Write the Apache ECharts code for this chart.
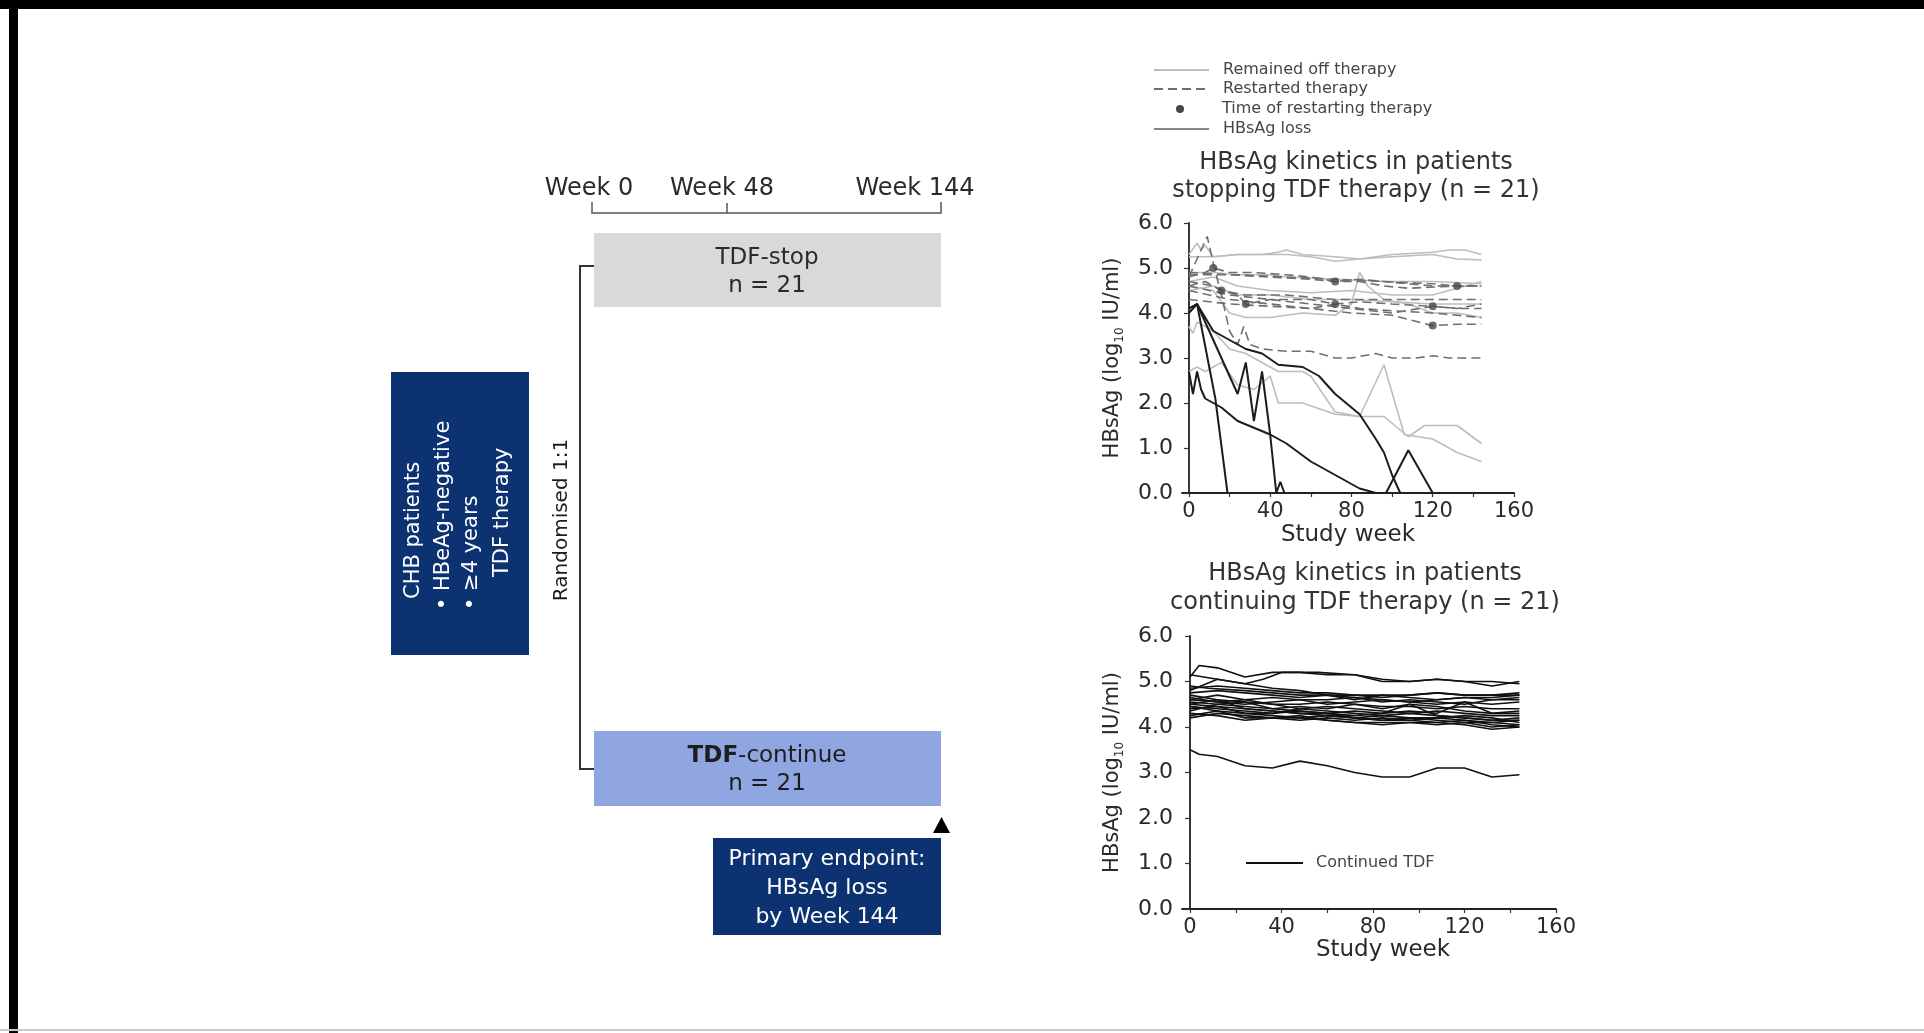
<!DOCTYPE html>
<html><head><meta charset="utf-8">
<script src="https://cdn.jsdelivr.net/npm/echarts@6/dist/echarts.min.js"></script>
<style>
html,body{margin:0;padding:0;background:#fff;overflow:hidden;}
#c{position:absolute;left:0;top:0;width:1924px;height:1033px;}
.bar{position:absolute;background:#000;}
</style></head><body>
<div id="c"></div>
<div class="bar" style="left:0;top:0;width:1924px;height:9px"></div>
<div class="bar" style="left:9px;top:0;width:9px;height:1033px"></div>
<div style="position:absolute;left:0;top:1029px;width:1924px;height:2px;background:#c8c8c8"></div>
<script>
// ---------- DATA ----------
const weekTicks = [0, 20, 40, 60, 80, 100, 120, 140, 160];
const weekLabels = [0, 40, 80, 120, 160];
const yTicks = [0, 1, 2, 3, 4, 5, 6];

// Stopping TDF: patients who remained off therapy (week, log10 IU/ml)
const offTherapy = [
  [[0,5.3],[4,5.55],[6,5.4],[8,5.5],[12,5.25],[24,5.3],[36,5.3],[44,5.35],[48,5.4],[56,5.3],[72,5.25],[84,5.2],[100,5.3],[120,5.35],[128,5.4],[136,5.4],[144,5.3]],
  [[0,5.25],[12,5.25],[24,5.3],[48,5.3],[60,5.25],[72,5.15],[84,5.2],[100,5.25],[120,5.3],[132,5.2],[144,5.18]],
  [[0,4.6],[12,4.5],[20,4.0],[28,3.9],[40,3.9],[56,4.0],[72,3.95],[80,4.2],[84,4.9],[88,4.6],[96,4.3],[108,4.2],[120,4.0],[132,4.0],[144,3.9]],
  [[0,4.5],[12,4.6],[24,4.4],[40,4.4],[60,4.3],[80,4.3],[100,4.25],[120,4.2],[144,4.2]],
  [[0,4.7],[12,4.8],[24,4.6],[40,4.5],[60,4.45],[80,4.5],[100,4.4],[120,4.4],[144,4.7]],
  [[0,4.9],[12,4.9],[24,4.85],[40,4.85],[48,4.8],[72,4.75],[96,4.7],[120,4.7],[144,4.65]],
  [[0,3.7],[2,3.55],[4,3.8],[8,3.7],[12,3.6],[20,3.2],[28,3.1],[36,2.9],[44,2.7],[56,2.7],[60,2.6],[72,1.8],[84,1.7],[96,1.7],[108,1.25],[116,1.5],[132,1.5],[144,1.1]],
  [[0,2.7],[4,2.8],[8,2.7],[16,2.9],[24,2.4],[32,2.3],[40,2.6],[44,2.0],[56,2.0],[72,1.75],[84,1.7],[96,2.85],[106,1.3],[120,1.2],[132,0.9],[144,0.7]]
];
// Stopping TDF: patients who restarted therapy
const restarted = [
  [[0,4.8],[8,4.9],[12,5.0],[20,4.9],[32,4.9],[48,4.85],[60,4.8],[72,4.7],[84,4.75],[96,4.7],[108,4.65],[120,4.6],[132,4.6],[144,4.6]],
  [[0,4.6],[8,4.7],[16,4.5],[24,4.4],[28,4.2],[40,4.3],[60,4.3],[72,4.2],[84,4.25],[100,4.2],[120,4.15],[132,4.1],[144,4.1]],
  [[0,4.7],[12,4.6],[16,4.5],[28,4.4],[48,4.4],[60,4.35],[72,4.3],[88,4.3],[108,4.3],[120,4.3],[144,4.3]],
  [[0,4.9],[20,4.85],[40,4.8],[60,4.75],[72,4.7],[84,4.7],[96,4.6],[108,4.55],[132,4.6],[144,4.6]],
  [[0,4.5],[20,4.3],[40,4.2],[60,4.1],[72,4.2],[84,4.1],[100,4.05],[120,4.0],[144,3.9]],
  [[0,4.6],[20,4.4],[40,4.3],[60,4.2],[80,4.1],[100,4.0],[120,4.15],[132,4.1],[144,4.2]],
  [[0,4.3],[20,4.2],[40,4.15],[60,4.1],[80,4.0],[100,3.95],[120,3.72],[132,3.75],[144,3.75]],
  [[0,4.8],[4,5.2],[9,5.7],[12,5.1],[16,4.4],[20,3.6],[24,3.3],[27,3.7],[30,3.3],[36,3.2],[48,3.15],[60,3.15],[72,3.0],[80,3.0],[92,3.1],[100,3.0],[112,3.0],[120,3.05],[128,3.0],[144,3.0]],
  [[0,4.85],[24,4.85],[48,4.8],[72,4.75],[96,4.7],[120,4.65],[132,4.6],[144,4.6]]
];
// Time of restarting therapy
const restartPoints = [[12,5.0],[16,4.5],[28,4.2],[72,4.7],[72,4.2],[120,4.15],[120,3.72],[132,4.6]];
// Stopping TDF: patients with HBsAg loss
const hbsagLoss = [
  [[0,4.1],[4,4.2],[13,2.1],[19,0]],
  [[0,4.0],[4,4.2],[24,2.2],[28,2.9],[32,1.6],[36,2.7],[40,1.3],[43,0],[45,0.25],[47,0]],
  [[0,2.7],[2,2.2],[4,2.7],[6,2.3],[8,2.1],[16,1.9],[24,1.6],[32,1.45],[40,1.3],[48,1.1],[60,0.7],[72,0.4],[84,0.1],[92,0],[97,0],[108,0.95],[120,0]],
  [[0,4.1],[4,4.2],[12,3.6],[20,3.4],[28,3.2],[36,3.1],[44,2.85],[56,2.8],[64,2.6],[72,2.2],[84,1.75],[92,1.2],[96,0.9],[100,0.4],[104,0]]
];
// Continuing TDF (n = 21)
const continued = [
  [[0,5.1],[4,5.35],[12,5.3],[24,5.1],[36,5.2],[48,5.2],[60,5.15],[72,5.15],[84,5.0],[96,5.0],[108,5.05],[120,5.0],[132,4.9],[144,5.0]],
  [[0,5.15],[12,5.05],[24,4.95],[32,5.05],[40,5.2],[56,5.2],[72,5.15],[84,5.05],[96,5.0],[108,5.05],[120,5.0],[132,5.0],[144,4.95]],
  [[0,3.5],[4,3.4],[12,3.35],[24,3.15],[36,3.1],[48,3.25],[60,3.15],[72,3.0],[84,2.9],[96,2.9],[108,3.1],[120,3.1],[132,2.9],[144,2.95]],
  [[0,4.85],[12,4.9],[24,4.85],[36,4.8],[48,4.75],[60,4.75],[72,4.7],[84,4.7],[96,4.7],[108,4.75],[120,4.7],[132,4.7],[144,4.75]],
  [[0,4.8],[12,5.05],[24,4.95],[36,4.85],[48,4.8],[60,4.7],[72,4.6],[84,4.7],[96,4.65],[108,4.6],[120,4.65],[132,4.65],[144,4.7]],
  [[0,4.75],[12,4.8],[24,4.75],[36,4.7],[48,4.65],[60,4.7],[72,4.65],[84,4.55],[96,4.6],[108,4.55],[120,4.5],[132,4.6],[144,4.6]],
  [[0,4.6],[12,4.7],[24,4.6],[36,4.5],[48,4.5],[60,4.55],[72,4.5],[84,4.45],[96,4.45],[108,4.4],[120,4.45],[132,4.4],[144,4.4]],
  [[0,4.55],[12,4.5],[24,4.45],[36,4.4],[48,4.35],[60,4.3],[72,4.35],[84,4.3],[96,4.35],[108,4.3],[120,4.55],[132,4.3],[144,4.35]],
  [[0,4.5],[12,4.45],[24,4.3],[36,4.25],[48,4.2],[60,4.25],[72,4.2],[84,4.15],[96,4.15],[108,4.2],[120,4.15],[132,4.1],[144,4.15]],
  [[0,4.45],[12,4.35],[24,4.2],[36,4.2],[48,4.25],[60,4.15],[72,4.1],[84,4.1],[96,4.1],[108,4.05],[120,4.1],[132,4.0],[144,4.05]],
  [[0,4.3],[12,4.25],[24,4.15],[36,4.2],[48,4.15],[60,4.2],[72,4.15],[84,4.2],[96,4.15],[108,4.1],[120,4.05],[132,3.95],[144,4.0]],
  [[0,4.25],[12,4.35],[24,4.3],[36,4.3],[48,4.4],[60,4.35],[72,4.3],[84,4.25],[96,4.3],[108,4.25],[120,4.2],[132,4.15],[144,4.2]],
  [[0,4.7],[12,4.6],[24,4.55],[36,4.4],[48,4.45],[60,4.4],[72,4.5],[84,4.4],[96,4.5],[108,4.45],[120,4.35],[132,4.3],[144,4.3]],
  [[0,4.65],[12,4.55],[24,4.5],[36,4.55],[48,4.6],[60,4.6],[72,4.65],[84,4.6],[96,4.55],[108,4.6],[120,4.65],[132,4.6],[144,4.65]],
  [[0,4.4],[12,4.45],[24,4.4],[36,4.35],[48,4.3],[60,4.25],[72,4.2],[84,4.25],[96,4.2],[108,4.2],[120,4.25],[132,4.2],[144,4.1]],
  [[0,4.9],[8,4.85],[24,4.8],[36,4.75],[48,4.7],[60,4.7],[72,4.7],[84,4.65],[96,4.7],[108,4.75],[120,4.7],[132,4.7],[144,4.7]],
  [[0,4.35],[12,4.5],[24,4.55],[36,4.5],[48,4.4],[60,4.45],[72,4.4],[84,4.35],[96,4.3],[108,4.35],[120,4.3],[132,4.25],[144,4.25]],
  [[0,4.5],[12,4.6],[24,4.4],[36,4.35],[48,4.3],[60,4.3],[72,4.25],[84,4.3],[96,4.5],[108,4.25],[120,4.2],[132,4.15],[144,4.15]],
  [[0,4.6],[12,4.55],[24,4.6],[36,4.65],[48,4.6],[60,4.5],[72,4.55],[84,4.6],[96,4.55],[108,4.5],[120,4.55],[132,4.5],[144,4.55]],
  [[0,4.45],[12,4.4],[24,4.35],[36,4.3],[48,4.35],[60,4.3],[72,4.2],[84,4.15],[96,4.2],[108,4.15],[120,4.1],[132,4.1],[144,4.05]],
  [[0,4.2],[12,4.3],[24,4.25],[36,4.2],[48,4.2],[60,4.15],[72,4.1],[84,4.05],[96,4.1],[108,4.1],[120,4.15],[132,4.05],[144,4.0]]
];

// ---------- STYLE ----------
const FONT = '"DejaVu Sans", "Liberation Sans", sans-serif';
const NAVY = '#0c3272';
const TXT = '#2a2a2a';

function xAxisCfg(gridIndex, min, nameGap, namePadLeft) {
  return {
    type: 'value', gridIndex, min, max: 160,
    axisLine: { show: true, onZero: false, lineStyle: { color: '#222', width: 1.8 } },
    axisTick: { show: true, customValues: weekTicks, length: 4, lineStyle: { color: '#333', width: 1.2 } },
    axisLabel: { customValues: weekLabels, margin: 8, color: TXT, fontFamily: FONT, fontSize: 21 },
    splitLine: { show: false },
    name: 'Study week', nameLocation: 'middle', nameGap,
    nameTextStyle: { color: TXT, fontFamily: FONT, fontSize: 23, padding: [0, 0, 0, namePadLeft] }
  };
}
function yAxisCfg(gridIndex) {
  return {
    type: 'value', gridIndex, min: 0, max: 6, interval: 1,
    axisLine: { show: true, lineStyle: { color: '#222', width: 1.8 } },
    axisTick: { show: true, length: 5, lineStyle: { color: '#333', width: 1.2 } },
    axisLabel: { margin: 9, color: TXT, fontFamily: FONT, fontSize: 22, formatter: v => v.toFixed(1) },
    splitLine: { show: false },
    name: 'HBsAg (log{s|10} IU/ml)', nameLocation: 'middle', nameRotate: 90, nameGap: 56,
    nameTextStyle: { color: TXT, fontFamily: FONT, fontSize: 21,
      rich: { s: { fontFamily: FONT, fontSize: 12, color: TXT, verticalAlign: 'bottom', lineHeight: 26 } } }
  };
}

const OFF_C = '#bdbdbd', RES_C = '#6f6f6f', LOSS_C = '#1c1c1c', CONT_C = '#111';
const series = [];
offTherapy.forEach(d => series.push({ type: 'line', name: 'Remained off therapy', xAxisIndex: 0, yAxisIndex: 0,
  data: d, symbol: 'none', silent: true, z: 2, itemStyle: { color: OFF_C }, lineStyle: { color: OFF_C, width: 1.6 } }));
restarted.forEach(d => series.push({ type: 'line', name: 'Restarted therapy', xAxisIndex: 0, yAxisIndex: 0,
  data: d, symbol: 'none', silent: true, z: 3, itemStyle: { color: RES_C }, lineStyle: { color: RES_C, width: 1.6, type: [9, 5] } }));
hbsagLoss.forEach(d => series.push({ type: 'line', name: 'HBsAg loss', xAxisIndex: 0, yAxisIndex: 0,
  data: d, symbol: 'none', silent: true, z: 4, itemStyle: { color: LOSS_C }, lineStyle: { color: LOSS_C, width: 2 } }));
series.push({ type: 'scatter', name: 'Time of restarting therapy', xAxisIndex: 0, yAxisIndex: 0,
  data: restartPoints, symbol: 'circle', symbolSize: 8, silent: true, z: 5, itemStyle: { color: '#474747' } });
continued.forEach(d => series.push({ type: 'line', name: 'Continued TDF', xAxisIndex: 1, yAxisIndex: 1,
  data: d, symbol: 'none', silent: true, z: 3, itemStyle: { color: CONT_C }, lineStyle: { color: CONT_C, width: 1.6 } }));

const legendText = { fontFamily: FONT, fontSize: 16, color: '#454545', lineHeight: 18, padding: [0, 0, 0, 9] };
const legendBase = {
  orient: 'horizontal', selectedMode: false, padding: 0, itemWidth: 55, itemHeight: 14, left: 1153,
  itemStyle: { opacity: 0 }, textStyle: legendText
};

function txt(x, y, text, size, opts) {
  opts = opts || {};
  return {
    type: 'text', x, y, rotation: opts.rotation || 0, silent: true, z: 10,
    style: Object.assign({
      text, fontFamily: FONT, fontSize: size, fontWeight: opts.weight || 'normal',
      fill: opts.fill || TXT, align: opts.align || 'center', textAlign: opts.align || 'center',
      verticalAlign: 'middle', textVerticalAlign: 'middle', lineHeight: opts.lineHeight || size + 4
    }, opts.style || {})
  };
}

const graphic = [
  // timeline
  txt(589, 189, 'Week 0', 24),
  txt(722, 189, 'Week 48', 24),
  txt(915, 189, 'Week 144', 24),
  { type: 'polyline', silent: true, shape: { points: [[592, 202], [592, 213], [941, 213], [941, 202]] },
    style: { stroke: '#555', lineWidth: 1.5, fill: null } },
  { type: 'line', silent: true, shape: { x1: 727, y1: 203, x2: 727, y2: 213 }, style: { stroke: '#555', lineWidth: 1.5 } },
  // TDF-stop box
  { type: 'rect', silent: true, shape: { x: 594, y: 233, width: 347, height: 74 }, style: { fill: '#d8d9db' } },
  txt(767, 258, 'TDF-stop', 23),
  txt(767, 286, 'n = 21', 23),
  // TDF-continue box
  { type: 'rect', silent: true, shape: { x: 594, y: 731, width: 347, height: 75 }, style: { fill: '#8fa6e1' } },
  { type: 'text', x: 767, y: 756, silent: true, z: 10, style: {
      text: '{b|TDF}{n|-continue}', align: 'center', textAlign: 'center', verticalAlign: 'middle', textVerticalAlign: 'middle',
      rich: { b: { fontFamily: FONT, fontSize: 23, fontWeight: 'bold', fill: '#1d1d1d', color: '#1d1d1d' },
              n: { fontFamily: FONT, fontSize: 23, fill: '#1d1d1d', color: '#1d1d1d' } } } },
  txt(767, 784, 'n = 21', 23, { fill: '#1d1d1d' }),
  // randomisation bracket
  { type: 'polyline', silent: true, shape: { points: [[594, 266], [580, 266], [580, 769], [594, 769]] },
    style: { stroke: '#333', lineWidth: 2, fill: null } },
  txt(562, 520, 'Randomised 1:1', 20, { rotation: Math.PI / 2, fill: '#1d1d1d' }),
  // left box
  { type: 'rect', silent: true, shape: { x: 391, y: 372, width: 138, height: 283 }, style: { fill: NAVY } },
  txt(414, 599, 'CHB patients', 21, { rotation: Math.PI / 2, fill: '#fff', align: 'left' }),
  txt(444, 610, '• HBeAg-negative', 21, { rotation: Math.PI / 2, fill: '#fff', align: 'left' }),
  txt(472, 610, '• ≥4 years', 21, { rotation: Math.PI / 2, fill: '#fff', align: 'left' }),
  txt(503, 577, 'TDF therapy', 21, { rotation: Math.PI / 2, fill: '#fff', align: 'left' }),
  // primary endpoint
  { type: 'polygon', silent: true, shape: { points: [[933, 833], [950, 833], [941.5, 817]] }, style: { fill: '#000' } },
  { type: 'rect', silent: true, shape: { x: 713, y: 838, width: 228, height: 97 }, style: { fill: NAVY } },
  txt(827, 859, 'Primary endpoint:', 22, { fill: '#fff' }),
  txt(827, 888, 'HBsAg loss', 22, { fill: '#fff' }),
  txt(827, 917, 'by Week 144', 22, { fill: '#fff' }),
  // chart titles
  txt(1356, 177, 'HBsAg kinetics in patients\nstopping TDF therapy (n = 21)', 24, { lineHeight: 28, fill: '#333' }),
  txt(1365, 588, 'HBsAg kinetics in patients\ncontinuing TDF therapy (n = 21)', 24, { lineHeight: 29, fill: '#333' })
];

const option = {
  animation: false,
  backgroundColor: '#fff',
  grid: [
    { left: 1182, top: 223, width: 332, height: 270, containLabel: false },
    { left: 1182, top: 636, width: 374, height: 273, containLabel: false }
  ],
  xAxis: [xAxisCfg(0, -3.4, 31, 0), xAxisCfg(1, -3.5, 29, 28)],
  yAxis: [yAxisCfg(0), yAxisCfg(1)],
  legend: [
    Object.assign({}, legendBase, { top: 61, data: ['Remained off therapy'] }),
    Object.assign({}, legendBase, { top: 80, data: ['Restarted therapy'] }),
    Object.assign({}, legendBase, { top: 100, left: 1176, itemWidth: 8, itemHeight: 8, itemStyle: { opacity: 1 },
      data: ['Time of restarting therapy'], textStyle: Object.assign({}, legendText, { padding: [0, 0, 0, 33] }) }),
    Object.assign({}, legendBase, { top: 120, data: [{ name: 'HBsAg loss', lineStyle: { color: '#858585' } }] }),
    Object.assign({}, legendBase, { left: 1245, top: 854, itemWidth: 57, data: ['Continued TDF'],
      textStyle: Object.assign({}, legendText, { padding: [0, 0, 0, 8] }) })
  ],
  graphic,
  series
};

const chart = echarts.init(document.getElementById('c'), null, { renderer: 'canvas' });
chart.setOption(option);
</script>
</body></html>
